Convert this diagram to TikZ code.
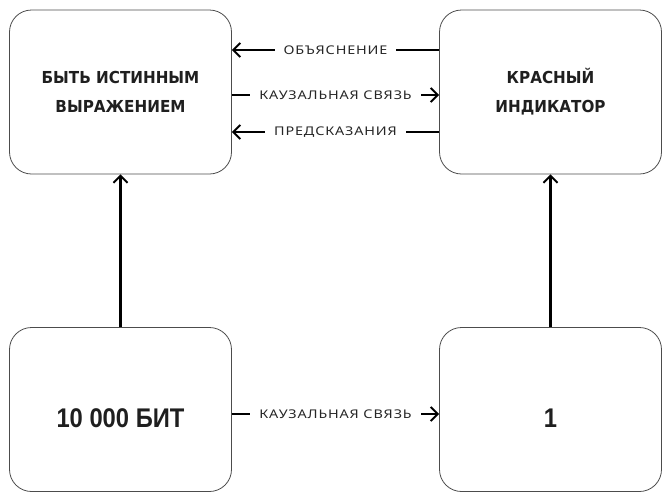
\documentclass[tikz,border=0pt]{standalone}
\usepackage{fontspec}
\setmainfont{Noto Sans}
\newfontfamily\boxfont{DejaVu Sans}[FakeStretch=0.92]
\newfontfamily\numfont{Liberation Sans}[FakeStretch=0.88]
\usetikzlibrary{arrows.meta}
\begin{document}
\begin{tikzpicture}[x=1pt, y=-1pt,
        box/.style={draw=black!70, line width=0.8pt, rounded corners=22pt,
            minimum width=222pt, minimum height=164pt, inner sep=0pt, align=center,
            font=\boxfont\bfseries\fontsize{16.5}{29}\selectfont, text=black!88},
        bigbox/.style={box, text height=36pt, text depth=0pt,
            font=\numfont\bfseries\fontsize{27}{30}\selectfont},
        conn/.style={line width=2.6pt, -{Straight Barb[length=7pt, width=14pt, line width=2pt]}},
        lbl/.style={fill=white, inner xsep=9pt, inner ysep=1pt, text=black!85,
            font=\addfontfeature{FakeStretch=1.2, LetterSpace=7}\fontsize{12}{13}\selectfont}]
        \useasboundingbox (0,0) rectangle (662,491);

        \node [box] (truth) at (120.5, 92) {БЫТЬ ИСТИННЫМ\\ВЫРАЖЕНИЕМ};
        \node [box] (red) at (550.5, 92) {КРАСНЫЙ\\ИНДИКАТОР};
        \node [bigbox] (bits) at (120.5, 409.5) {10 000 БИТ};
        \node [bigbox] (one) at (550.5, 409.5) {1};

        \draw [conn] (red.west |- 0,50) -- node [lbl] {ОБЪЯСНЕНИЕ} (truth.east |- 0,50);
        \draw [conn] (truth.east |- 0,95) -- node [lbl] {КАУЗАЛЬНАЯ СВЯЗЬ} (red.west |- 0,95);
        \draw [conn] (red.west |- 0,132) -- node [lbl] {ПРЕДСКАЗАНИЯ} (truth.east |- 0,132);

        \draw [conn] (bits.east |- 0,414) -- node [lbl] {КАУЗАЛЬНАЯ СВЯЗЬ} (one.west |- 0,414);
        \draw [conn] (bits.north) -- (truth.south);
        \draw [conn] (one.north) -- (red.south);
    \end{tikzpicture}
\end{document}
